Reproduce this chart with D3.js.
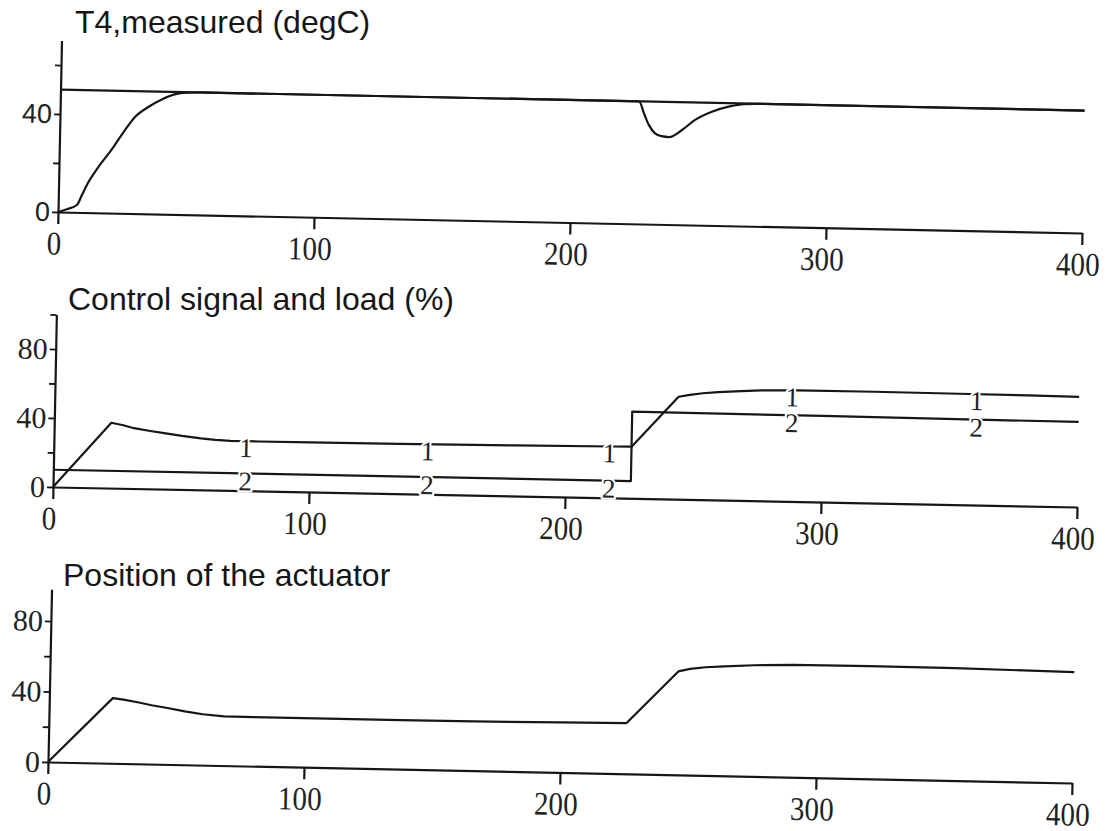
<!DOCTYPE html>
<html><head><meta charset="utf-8">
<script src="https://cdn.jsdelivr.net/npm/d3@7"></script>
<style>body{margin:0;background:#fff}</style>
</head><body>
<svg id="c" width="1120" height="831"></svg>
<script>
// ---------- data ----------
const xTicks = [0, 100, 200, 300, 400];

const setpointTime  = [0, 400];
const setpointValue = [50, 50];

const t4Time  = [0, 3.4, 7.3, 9.2, 11.2, 15.1, 20.3, 25.5, 29.4, 34.6, 39.8, 45, 50.3, 55, 226, 228, 230, 232.5, 235, 238, 243, 248, 254.5, 261, 267, 275, 400];
const t4Value = [0, 1.2, 3.0, 7.1, 11.6, 18.2, 25.7, 34, 39.5, 43.7, 46.9, 49.1, 49.8, 50, 50, 45.2, 40.5, 37.1, 36.0, 35.7, 38.7, 42.9, 46.4, 48.6, 49.8, 50, 50];

const controlTime  = [0, 22.3, 27, 31.2, 37, 43.6, 50, 57.4, 63, 69, 80, 100, 135, 180, 218, 225.6, 243.6, 248, 253, 259, 268, 276, 290, 320, 353, 380, 400];
const controlValue = [0, 37.9, 36.6, 35, 33.7, 32.4, 31.1, 29.9, 29.2, 28.8, 28.7, 28.8, 28.9, 29.3, 29.8, 29.9, 59.4, 60.6, 61.7, 62.5, 63.4, 64, 64.4, 64.5, 64.3, 64.1, 63.8];

const loadTime  = [0, 225.6, 225.6, 300, 400];
const loadValue = [10, 10, 50.2, 49.9, 49.3];

const curveLabelTimes = [75, 146, 217, 288, 360];

const actuatorTime  = [0, 24.8, 29, 35, 40, 46.2, 53, 60, 68.4, 80, 137.4, 166, 200, 225.6, 245.4, 250, 256, 263.4, 275, 290.4, 320, 353.4, 380, 400];
const actuatorValue = [0, 37, 36.3, 34.8, 33.4, 32, 30.3, 28.9, 27.9, 27.8, 27.9, 28, 28.4, 28.8, 58.7, 60.3, 61.4, 62.1, 63.1, 63.8, 63.9, 63.8, 63.3, 62.9];

const titles = ["T4,measured (degC)", "Control signal and load (%)", "Position of the actuator"];

// ---------- layout ----------
const INK = "#161616";
const svg = d3.select("#c");
const zip = (a, b) => a.map((d, i) => [d, b[i]]);

const panels = [
  {title: titles[0], tx: 75, ty: 33,  ox: 58, oy: 212, ex: 1082, ey: 233, ymax: 70, ppu: 2.45,  yLabels: [0, 40], yFont: "'Liberation Sans', Arial, sans-serif", yFs: 27,
   series: [{d: zip(setpointTime, setpointValue)}, {d: zip(t4Time, t4Value), curve: d3.curveMonotoneX}]},
  {title: titles[1], tx: 68, ty: 310, ox: 53, oy: 487, ex: 1077, ey: 507, ymax: 100, ppu: 1.725, yLabels: [0, 40, 80], yFont: "'Liberation Serif', 'Times New Roman', serif", yFs: 30,
   series: [{d: zip(controlTime, controlValue), label: "1", off: 16}, {d: zip(loadTime, loadValue), label: "2", off: 17}]},
  {title: titles[2], tx: 63, ty: 586, ox: 48, oy: 762, ex: 1072, ey: 783, ymax: 98, ppu: 1.7625, yLabels: [0, 40, 80], yFont: "'Liberation Serif', 'Times New Roman', serif", yFs: 30,
   series: [{d: zip(actuatorTime, actuatorValue)}]}
];

function valueAt(data, t) {
  // value on the polyline at time t (for label placement)
  for (let i = 1; i < data.length; i++) {
    if (data[i][0] >= t && data[i-1][0] <= t) {
      const a = data[i-1], b = data[i];
      if (b[0] === a[0]) return b[1];
      return a[1] + (b[1] - a[1]) * (t - a[0]) / (b[0] - a[0]);
    }
  }
  return data[data.length - 1][1];
}

panels.forEach(p => {
  svg.append("text").attr("x", p.tx).attr("y", p.ty)
    .attr("font-family", "'Liberation Sans', Arial, sans-serif").attr("font-size", 32)
    .attr("fill", INK).text(p.title);

  const len = Math.hypot(p.ex - p.ox, p.ey - p.oy);
  const ang = Math.atan2(p.ey - p.oy, p.ex - p.ox) * 180 / Math.PI;
  const g = svg.append("g").attr("transform", `translate(${p.ox},${p.oy}) rotate(${ang})`);

  const x = d3.scaleLinear().domain([0, 400]).range([0, len]);
  const y = d3.scaleLinear().domain([0, p.ymax]).range([0, -p.ymax * p.ppu]);

  // x axis
  const xa = g.append("g").call(d3.axisBottom(x).tickValues(xTicks).tickSize(12).tickSizeOuter(0).tickPadding(7));
  xa.select(".domain").attr("stroke", INK).attr("stroke-width", 2.2);
  xa.selectAll(".tick line").attr("stroke", INK).attr("stroke-width", 2.2);
  xa.selectAll(".tick text")
    .attr("font-family", "'Liberation Serif', 'Times New Roman', serif").attr("font-size", 33)
    .attr("fill", "#222").attr("transform", "translate(-4,0) scale(0.88,1)");

  // y axis
  const yTicks = d3.range(0, p.ymax + 0.1, 20);
  const ya = g.append("g").call(d3.axisLeft(y).tickValues(yTicks).tickSize(6).tickSizeOuter(0).tickPadding(2)
      .tickFormat(d => p.yLabels.includes(d) ? d : ""));
  ya.select(".domain").attr("stroke", INK).attr("stroke-width", 2.2);
  ya.selectAll(".tick line").attr("stroke", INK).attr("stroke-width", 1.8);
  ya.selectAll(".tick text").attr("font-family", p.yFont).attr("font-size", p.yFs).attr("fill", "#222");

  // lines
  p.series.forEach(s => {
    const line = d3.line().x(d => x(d[0])).y(d => y(d[1])).curve(s.curve || d3.curveLinear);
    g.append("path").datum(s.d).attr("d", line).attr("fill", "none")
      .attr("stroke", INK).attr("stroke-width", 2.2).attr("stroke-linejoin", "round");
  });
  // curve labels
  p.series.filter(s => s.label).forEach(s => {
    g.selectAll(null).data(curveLabelTimes).enter().append("text")
      .attr("x", t => x(t)).attr("y", t => y(valueAt(s.d, t)) + s.off)
      .attr("text-anchor", "middle")
      .attr("font-family", "'Liberation Serif', 'Times New Roman', serif").attr("font-size", 27)
      .attr("fill", "#222").attr("stroke", "#fff").attr("stroke-width", 4).attr("paint-order", "stroke")
      .text(s.label);
  });
});
</script>
</body></html>
